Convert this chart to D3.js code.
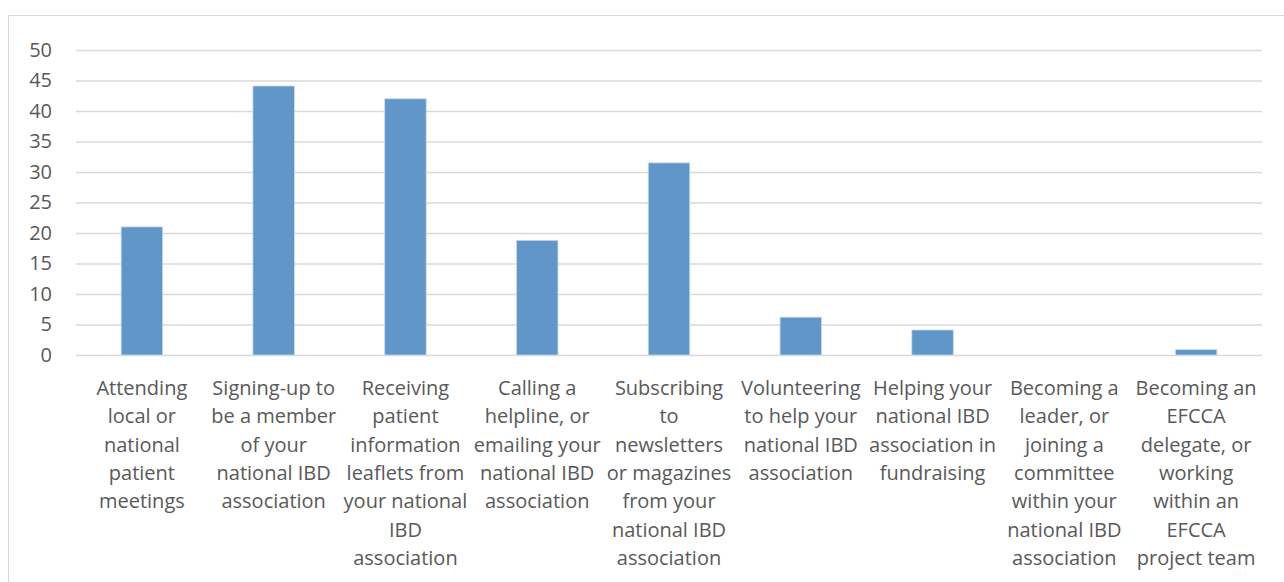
<!DOCTYPE html>
<html>
<head>
<meta charset="utf-8">
<script src="https://cdn.jsdelivr.net/npm/d3@7"></script>
<style>
  html, body { margin: 0; padding: 0; background: #fff; }
  svg { display: block; }
  text { font-family: "Open Sans", Lato, sans-serif; fill: #595959; }
</style>
</head>
<body>
<svg id="chart" width="1284" height="582"></svg>
<script>
// Category labels (line breaks as laid out under each bar)
const categories = [
  "Attending\nlocal or\nnational\npatient\nmeetings",
  "Signing-up to\nbe a member\nof your\nnational IBD\nassociation",
  "Receiving\npatient\ninformation\nleaflets from\nyour national\nIBD\nassociation",
  "Calling a\nhelpline, or\nemailing your\nnational IBD\nassociation",
  "Subscribing\nto\nnewsletters\nor magazines\nfrom your\nnational IBD\nassociation",
  "Volunteering\nto help your\nnational IBD\nassociation",
  "Helping your\nnational IBD\nassociation in\nfundraising",
  "Becoming a\nleader, or\njoining a\ncommittee\nwithin your\nnational IBD\nassociation",
  "Becoming an\nEFCCA\ndelegate, or\nworking\nwithin an\nEFCCA\nproject team"
];
const values = [21, 44.1, 42, 18.8, 31.5, 6.2, 4.1, 0, 0.9];
const yTicks = [0, 5, 10, 15, 20, 25, 30, 35, 40, 45, 50];

const svg = d3.select("#chart");
const fontFamily = "'Open Sans', Lato, sans-serif";

// chart area frame
svg.append("rect")
  .attr("x", 8.5).attr("y", 15.5)
  .attr("width", 1300).attr("height", 620)
  .attr("fill", "none").attr("stroke", "#d9d9d9").attr("stroke-width", 1);

const margin = { left: 76, right: 1262, top: 50, bottom: 355 };

const x = d3.scaleBand()
  .domain(d3.range(categories.length))
  .range([margin.left, margin.right])
  .paddingInner(0.685).paddingOuter(0.3425);

const y = d3.scaleLinear().domain([0, 50]).range([margin.bottom, margin.top]);

// horizontal gridlines
const grid = svg.append("g")
  .attr("transform", `translate(${margin.left},0)`)
  .call(d3.axisLeft(y).tickValues(yTicks).tickSize(-(margin.right - margin.left)).tickFormat(""));
grid.select(".domain").remove();
grid.selectAll(".tick line").attr("stroke", "#d9d9d9").attr("stroke-width", 1.6);

// y tick labels
const yAxis = svg.append("g")
  .attr("transform", `translate(${margin.left - 24},0)`)
  .call(d3.axisLeft(y).tickValues(yTicks).tickSize(0).tickPadding(0));
yAxis.select(".domain").remove();
yAxis.selectAll("text")
  .attr("font-size", "20px")
  .attr("fill", "#595959")
  .style("font-family", fontFamily);

// bars
svg.append("g").selectAll("rect")
  .data(values)
  .join("rect")
  .attr("x", (d, i) => x(i))
  .attr("y", d => y(d))
  .attr("width", x.bandwidth())
  .attr("height", d => y(0) - y(d))
  .attr("fill", "#6096c8")
  .attr("stroke", "#c9dcef")
  .attr("stroke-width", d => d > 0 ? 0.8 : 0);

// category labels
const lineH = 28.3;
const labels = svg.append("g").selectAll("text")
  .data(categories)
  .join("text")
  .attr("text-anchor", "middle")
  .attr("font-size", "20px")
  .attr("x", (d, i) => x(i) + x.bandwidth() / 2)
  .attr("y", 395);
labels.selectAll("tspan")
  .data(d => d.split("\n"))
  .join("tspan")
  .attr("x", function() { return d3.select(this.parentNode).attr("x"); })
  .attr("dy", (d, i) => i === 0 ? 0 : lineH)
  .text(d => d);
</script>
</body>
</html>
